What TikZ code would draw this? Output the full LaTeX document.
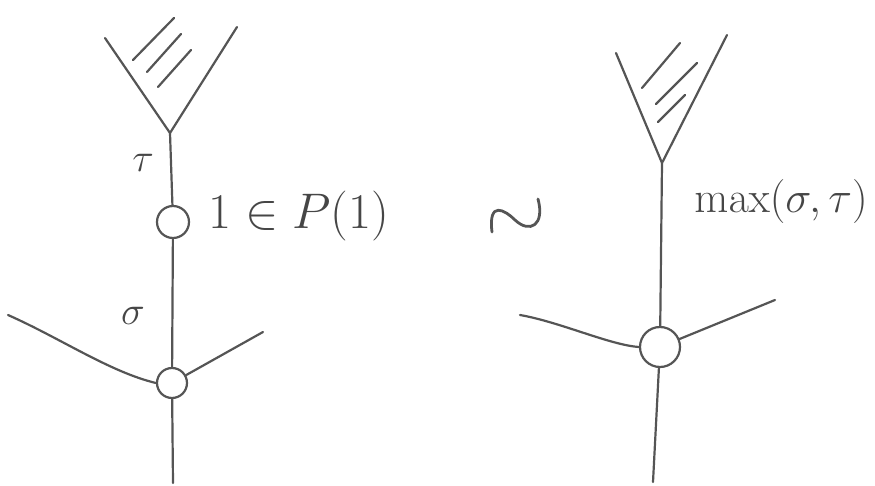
\RequirePackage{fix-cm}
\documentclass[tikz,border=0pt]{standalone}
\begin{document}
\begin{tikzpicture}[x=1pt,y=-1pt,
  pencil/.style={draw={rgb,255:red,85;green,85;blue,85},line width=2.2pt,line cap=round,line join=round},
  vtx/.style={circle,pencil,inner sep=0pt,fill=white},
  lbl/.style={text={rgb,255:red,70;green,70;blue,70},inner sep=0pt}]
\useasboundingbox (0,0) rectangle (875,486);
% ---------- left tree ----------
\coordinate (LA) at (170,133);
\coordinate (LL) at (105,38);
\coordinate (LR) at (237,27);
\node[vtx,minimum size=32pt] (L1) at (173,222) {};
\node[vtx,minimum size=30pt] (L2) at (172,383) {};
\coordinate (LBl) at (8,315);
\coordinate (LBr) at (263,332);
\coordinate (LD) at (173,483);
\draw[pencil] (LL) -- (LA) -- (LR);
\coordinate (h1a) at (133,60); \coordinate (h1b) at (174,18);
\coordinate (h2a) at (147,72); \coordinate (h2b) at (181,34);
\coordinate (h3a) at (158,87); \coordinate (h3b) at (191,50);
\draw[pencil] (h1a) -- (h1b) (h2a) -- (h2b) (h3a) -- (h3b);
\draw[pencil] (LA) -- (L1);
\draw[pencil] (L1) -- (L2);
\draw[pencil] (LBl) .. controls (60,338) and (110,372) .. (L2.west);
\draw[pencil] (L2) -- (LBr);
\draw[pencil] (L2) -- (LD);
\node[lbl,font=\fontsize{40}{48}\selectfont] (tau1) at (143,163) {$\tau$};
\node[lbl,font=\fontsize{40}{48}\selectfont] (sig1) at (133,316) {$\sigma$};
\node[lbl,anchor=west,font=\fontsize{50}{60}\selectfont] (onein) at (208,216) {$1\in P(1)$};
% ---------- tilde ----------
\coordinate (T1) at (492,232);
\coordinate (T2) at (538,199);
\draw[pencil,line width=2.8pt] (T1) .. controls (488,200) and (505,210) .. (515,220) .. controls (530,234) and (545,225) .. (T2);
% ---------- right tree ----------
\coordinate (RA) at (662,163);
\coordinate (RL) at (616,53);
\coordinate (RR) at (727,35);
\node[vtx,minimum size=40pt] (R1) at (660,347) {};
\coordinate (RBl) at (520,315);
\coordinate (RBr) at (775,300);
\coordinate (RD) at (653,482);
\draw[pencil] (RL) -- (RA) -- (RR);
\coordinate (g1a) at (642,88); \coordinate (g1b) at (680,43);
\coordinate (g2a) at (656,104); \coordinate (g2b) at (697,63);
\coordinate (g3a) at (658,122); \coordinate (g3b) at (685,95);
\draw[pencil] (g1a) -- (g1b) (g2a) -- (g2b) (g3a) -- (g3b);
\draw[pencil] (RA) -- (R1);
\draw[pencil] (RBl) .. controls (560,322) and (610,345) .. (R1.west);
\draw[pencil] (R1) -- (RBr);
\draw[pencil] (R1) -- (RD);
\node[lbl,font=\fontsize{44}{52}\selectfont] (maxst) at (781,202) {$\max(\sigma,\tau)$};
\end{tikzpicture}
\end{document}
